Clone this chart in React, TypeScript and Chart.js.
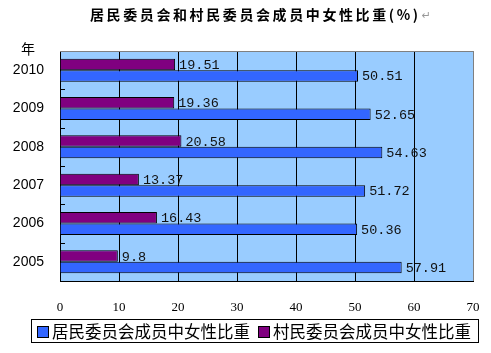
import React, { useEffect, useRef } from 'react';
import { Chart, registerables } from 'chart.js';

Chart.register(...registerables);

const years = ['2005', '2006', '2007', '2008', '2009', '2010'];
const residentShare = [57.91, 50.36, 51.72, 54.63, 52.65, 50.51];
const villageShare = [9.8, 16.43, 13.37, 20.58, 19.36, 19.51];
const xTicks = [0, 10, 20, 30, 40, 50, 60, 70];
const residentName = '居民委员会成员中女性比重';
const villageName = '村民委员会成员中女性比重';
const chartTitle = '居民委员会和村民委员会成员中女性比重(%)';
const yAxisTitle = '年';

const RESIDENT_COLOR = '#3366FF';
const VILLAGE_COLOR = '#800080';
const PLOT_BG = '#99CCFF';

const decor = {
  id: 'decor',
  beforeDraw(chart: any) {
    const { ctx, chartArea: a } = chart;
    ctx.save();
    ctx.fillStyle = '#ffffff';
    ctx.fillRect(0, 0, chart.width, chart.height);
    ctx.fillStyle = PLOT_BG;
    ctx.fillRect(a.left, a.top, a.right - a.left, a.bottom - a.top);
    ctx.restore();
  },
  afterDatasetsDraw(chart: any) {
    const { ctx } = chart;
    ctx.save();
    ctx.font = '13.5px "Liberation Mono", "DejaVu Sans Mono", monospace';
    ctx.fillStyle = '#111';
    ctx.textAlign = 'left';
    ctx.textBaseline = 'middle';
    chart.data.datasets.forEach((ds: any, di: number) => {
      const meta = chart.getDatasetMeta(di);
      meta.data.forEach((el: any, i: number) => {
        ctx.fillText(String(ds.data[i]), el.x + 4, el.y + 1);
      });
    });
    ctx.restore();
  },
  afterDraw(chart: any) {
    const { ctx, chartArea: a } = chart;
    const yScale = chart.scales.y;
    ctx.save();
    // top border
    ctx.strokeStyle = '#808080';
    ctx.lineWidth = 1;
    ctx.beginPath();
    ctx.moveTo(a.left, Math.round(a.top) + 0.5);
    ctx.lineTo(a.right, Math.round(a.top) + 0.5);
    ctx.stroke();
    // category boundary tick marks (inside)
    ctx.strokeStyle = '#000';
    for (let i = 0; i < years.length - 1; i++) {
      const yb = (yScale.getPixelForValue(i) + yScale.getPixelForValue(i + 1)) / 2;
      ctx.beginPath();
      ctx.moveTo(a.left, Math.round(yb) + 0.5);
      ctx.lineTo(a.left + 5, Math.round(yb) + 0.5);
      ctx.stroke();
    }
    // title
    ctx.fillStyle = '#000';
    ctx.font = 'bold 14px "Noto Sans CJK SC", sans-serif';
    (ctx as any).letterSpacing = '2.6px';
    ctx.textAlign = 'left';
    ctx.textBaseline = 'middle';
    const tw = ctx.measureText(chartTitle).width;
    const tx = 90;
    ctx.fillText(chartTitle, tx, 15);
    (ctx as any).letterSpacing = '0px';
    ctx.fillStyle = '#999';
    ctx.font = '11px "DejaVu Sans", sans-serif';
    ctx.fillText('↵', tx + tw + 1, 16);
    // y axis title
    ctx.fillStyle = '#000';
    ctx.font = '14px "Noto Sans CJK SC", sans-serif';
    ctx.textAlign = 'center';
    ctx.fillText(yAxisTitle, 28, 49);
    // legend
    ctx.strokeStyle = '#000';
    ctx.strokeRect(31.5, 319.5, 447, 23);
    ctx.font = '16.5px "Noto Sans CJK SC", sans-serif';
    ctx.textAlign = 'left';
    let x = 37;
    const order = chart.data.datasets.map((_: any, i: number) => i).reverse();
    order.forEach((di: number) => {
      const ds = chart.data.datasets[di];
      ctx.fillStyle = ds.backgroundColor;
      ctx.fillRect(x, 326, 11, 11);
      ctx.strokeRect(x + 0.5, 326.5, 11, 11);
      ctx.fillStyle = '#000';
      ctx.fillText(ds.label, x + 15, 331.5);
      x += 15 + ctx.measureText(ds.label).width + 8;
    });
    ctx.restore();
  },
};

export default function App() {
  const canvasRef = useRef<HTMLCanvasElement | null>(null);

  useEffect(() => {
    if (!canvasRef.current) return;
    const chart = new Chart(canvasRef.current, {
      type: 'bar',
      data: {
        labels: years,
        datasets: [
          {
            label: villageName,
            data: villageShare,
            backgroundColor: VILLAGE_COLOR,
            borderColor: '#000',
            borderWidth: 1,
            barPercentage: 1,
            categoryPercentage: 0.6,
          },
          {
            label: residentName,
            data: residentShare,
            backgroundColor: RESIDENT_COLOR,
            borderColor: '#000',
            borderWidth: 1,
            barPercentage: 1,
            categoryPercentage: 0.6,
          },
        ],
      },
      options: {
        animation: false,
        responsive: true,
        maintainAspectRatio: false,
        indexAxis: 'y',
        layout: { padding: { top: 51, right: 18, left: 0, bottom: 0 } },
        plugins: {
          legend: { display: false },
          title: { display: false },
          tooltip: { enabled: false },
        },
        scales: {
          x: {
            min: 0,
            max: 70,
            position: 'bottom',
            afterBuildTicks: (s: any) => {
              s.ticks = xTicks.map((v) => ({ value: v }));
            },
            afterFit: (s: any) => {
              s.height = 72;
              s.paddingLeft = 0;
              s.paddingRight = 0;
            },
            ticks: {
              padding: 19,
              color: '#000',
              font: { family: '"Liberation Serif", serif', size: 13 },
            },
            grid: {
              drawTicks: false,
              color: (c: any) => (c.tick && c.tick.value === 70 ? '#808080' : '#000'),
            },
            border: { color: '#000' },
          },
          y: {
            reverse: true,
            afterFit: (s: any) => {
              s.width = 60;
            },
            ticks: {
              padding: 16,
              color: '#000',
              font: { family: '"Liberation Sans", sans-serif', size: 14 },
            },
            grid: { display: false, drawTicks: false },
            border: { display: true, color: '#000' },
          },
        },
      },
      plugins: [decor],
    } as any);
    return () => chart.destroy();
  }, []);

  return (
    <div style={{ position: 'fixed', left: 0, top: 0, width: 491, height: 353, background: '#fff' }}>
      <canvas ref={canvasRef} />
    </div>
  );
}
